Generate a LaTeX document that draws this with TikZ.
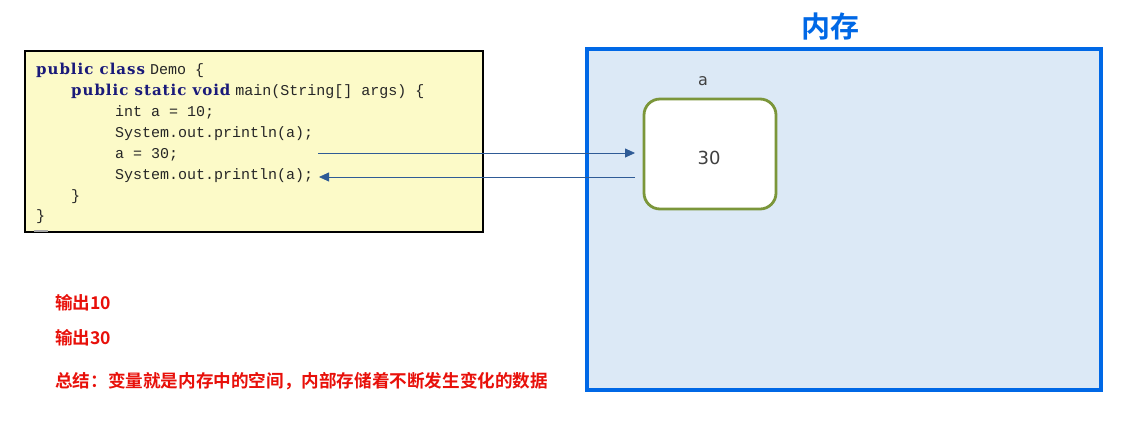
\documentclass[tikz,border=0pt]{standalone}
\usepackage{fontspec}
\setmainfont{Liberation Serif}
\newfontfamily\codefont{Liberation Mono}
\newfontfamily\kwfont[LetterSpace=6.5]{DejaVu Serif}
\newfontfamily\cjkb[BoldFont={Noto Sans CJK SC Bold}]{Noto Sans CJK SC}
\newfontfamily\uifont{DejaVu Sans}
\usetikzlibrary{arrows.meta}
\definecolor{codebg}{HTML}{FCFAC8}
\definecolor{kw}{HTML}{1A1A7A}
\definecolor{memblue}{HTML}{0068E6}
\definecolor{memfill}{HTML}{DCE9F6}
\definecolor{olive}{HTML}{7B963A}
\definecolor{arrowc}{HTML}{2F5B96}
\definecolor{redt}{HTML}{E8100A}
\definecolor{txtgray}{HTML}{404040}
\newcommand{\kwd}[1]{{\kwfont\bfseries\fontsize{15}{15}\selectfont\color{kw}#1}}
\tikzset{
  codeline/.style={anchor=base west, inner sep=0pt, font=\codefont\fontsize{15}{15}\selectfont, text=black!85},
  redline/.style={anchor=base west, inner sep=0pt, font=\cjkb\bfseries\fontsize{17.6}{17.6}\selectfont, text=redt},
  link/.style={draw=arrowc, line width=0.8pt, -{Triangle[length=10pt,width=9pt]}},
  box/.style={inner sep=0pt, outer sep=0pt, anchor=north west},
}
\begin{document}
\begin{tikzpicture}[x=1pt,y=-1pt]
\useasboundingbox (0,0) rectangle (1134,432);
\fill[white] (0,0) rectangle (1134,432);
% code box
\node[box, draw=black, line width=2pt, fill=codebg, minimum width=458pt, minimum height=181pt] (code) at (25,51) {};
\draw[gray!70, line width=1.5pt] (34,231) -- (48,231);
\node[codeline] (l1) at (36,74) {\kwd{public class}\hspace{5pt}Demo \{};
\node[codeline] (l2) at (71,95) {\kwd{public static void}\hspace{5pt}main(String[] args) \{};
\node[codeline] (l3) at (115,116) {int a = 10;};
\node[codeline] (l4) at (115,137) {System.out.println(a);};
\node[codeline] (l5) at (115,158) {a = 30;};
\node[codeline] (l6) at (115,179) {System.out.println(a);};
\node[codeline] (l7) at (71,200) {\}};
\node[codeline] (l8) at (36,220) {\}};
% memory
\node[font=\cjkb\bfseries\fontsize{29}{29}\selectfont, text=memblue, inner sep=0pt] (title) at (830,27) {内存};
\node[box, draw=memblue, line width=4.5pt, fill=memfill, minimum width=514pt, minimum height=341pt] (mem) at (587,49) {};
\node[box, draw=olive, line width=2.8pt, fill=white, rounded corners=16pt, minimum width=132pt, minimum height=110pt] (var) at (644,99) {};
\node[font=\uifont\fontsize{18}{18}\selectfont, text=txtgray, inner sep=0pt] (val) at (709,158) {30};
\node[font=\uifont\fontsize{16}{16}\selectfont, text=txtgray, inner sep=0pt] (vname) at (703,81) {a};
% arrows
\coordinate (s1) at (318,153);
\coordinate (e1) at (635,153);
\coordinate (s2) at (635,177);
\coordinate (e2) at (319,177);
\draw[link] (s1) -- (e1);
\draw[link] (s2) -- (e2);
% red notes
\node[redline] (o1) at (55,309) {输出10};
\node[redline] (o2) at (55,344) {输出30};
\node[redline] (sum) at (55,387) {总结：变量就是内存中的空间，内部存储着不断发生变化的数据};
\end{tikzpicture}
\end{document}
